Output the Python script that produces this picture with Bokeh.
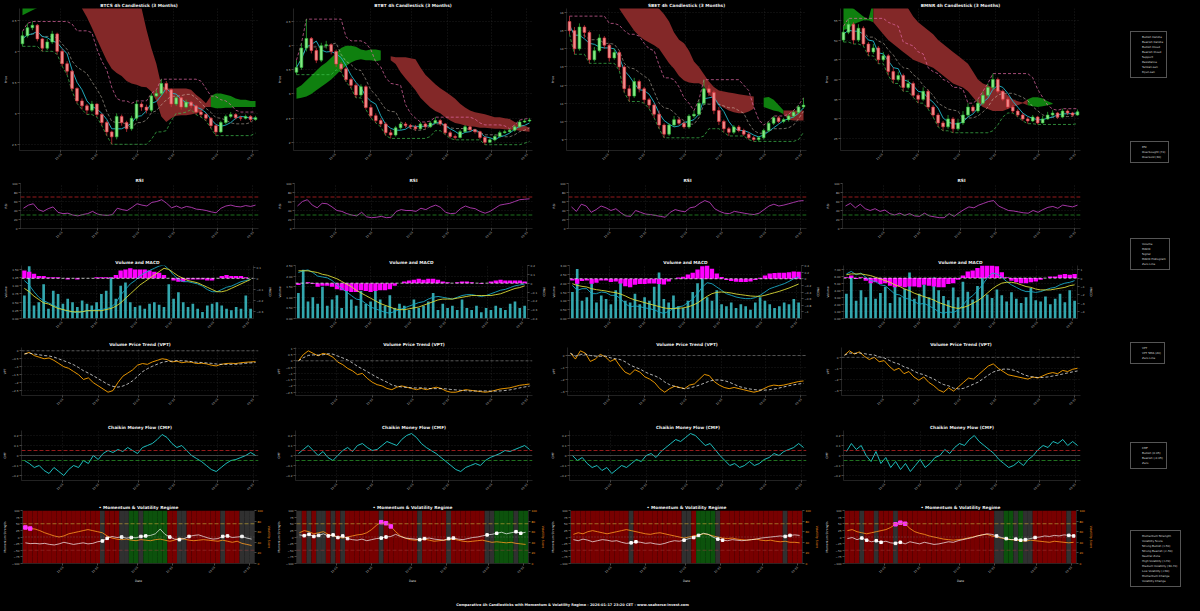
import math
import numpy as np
import pandas as pd
from bokeh.plotting import figure
from bokeh.layouts import row, column
from bokeh.models import (Range1d, LinearAxis, FixedTicker, Span, Legend, LegendItem,
                          Label, NumeralTickFormatter)
from bokeh.embed import file_html
from bokeh.resources import INLINE

# ------------------------------------------------------------------ data
TICKERS = ["BTCS", "BTBT", "SBET", "BMNR"]
START_DATE = "2025-10-17"
END_DATE = "2026-01-16"
N_BARS = 48
DATE_TICK_DATES = ["2025-11-01", "2025-11-15", "2025-12-01", "2025-12-15", "2026-01-01", "2026-01-15"]
DATE_TICK_LABELS = ["11-01", "11-15", "12-01", "12-15", "01-01", "01-15"]
FOOTER = "Comparative 4h Candlesticks with Momentum & Volatility Regime - 2026-01-17 23:20 CET - www.seahorse-invest.com"

BTCS_OPEN0 = 4.12
BTCS_CLOSE = [4.25, 4.38, 4.42, 4.20, 4.05, 4.15, 4.28, 4.00, 3.80, 3.68,
              3.40, 3.20, 3.12, 3.05, 3.15, 2.98, 2.85, 2.70, 2.62, 2.95,
              2.85, 2.75, 2.92, 3.15, 3.10, 3.05, 3.28, 3.32, 3.48, 3.38,
              3.15, 3.25, 3.10, 3.18, 3.12, 3.02, 2.98, 2.92, 2.80, 2.70,
              2.85, 2.95, 2.98, 2.93, 2.92, 2.95, 2.90, 2.93]
BTCS_HIGH = [4.32, 4.45, 4.48, 4.44, 4.22, 4.20, 4.33, 4.30, 4.04, 3.84,
             3.70, 3.42, 3.24, 3.15, 3.20, 3.16, 3.00, 2.88, 2.72, 3.00,
             2.98, 2.88, 2.96, 3.20, 3.18, 3.14, 3.32, 3.38, 3.55, 3.52,
             3.40, 3.28, 3.27, 3.22, 3.20, 3.14, 3.05, 3.00, 2.94, 2.82,
             2.88, 2.98, 3.02, 3.00, 2.96, 2.98, 2.97, 2.96]
BTCS_LOW = [4.08, 4.22, 4.34, 4.16, 4.00, 4.02, 4.12, 3.95, 3.76, 3.62,
            3.36, 3.16, 3.06, 2.98, 3.02, 2.94, 2.80, 2.64, 2.50, 2.58,
            2.80, 2.70, 2.72, 2.88, 3.04, 3.00, 3.02, 3.26, 3.28, 3.32,
            3.10, 3.12, 3.06, 3.08, 3.08, 2.98, 2.94, 2.88, 2.76, 2.64,
            2.68, 2.82, 2.92, 2.90, 2.88, 2.90, 2.86, 2.88]
BTCS_SPAN_A = [4.75, 4.75, 4.74, 4.72, None, None, None, None, None, None,
               None, None, 4.69, 4.55, 4.38, 4.20, 4.02, 3.85, 3.72, 3.65,
               3.60, 3.52, 3.48, 3.46, 3.43, 3.42, 3.35, 3.20, 2.95, 2.86,
               2.92, 2.96, 2.97, 2.97, 2.98, 3.00, 3.02, 3.10, 3.28, 3.32,
               3.32, 3.30, 3.28, 3.24, 3.22, 3.22, 3.20, 3.20]
BTCS_SPAN_B = [4.58, 4.62, 4.66, 4.70, None, None, None, None, None, None,
               None, None, 4.80, 4.80, 4.80, 4.80, 4.80, 4.80, 4.80, 4.80,
               4.80, 4.80, 4.80, 4.80, 4.70, 4.35, 4.05, 3.80, 3.45, 3.40,
               3.40, 3.40, 3.40, 3.40, 3.38, 3.30, 3.24, 3.16, 3.10, 3.08,
               3.08, 3.09, 3.09, 3.10, 3.10, 3.10, 3.10, 3.10]

BTBT_OPEN0 = 3.45
BTBT_CLOSE = [3.55, 3.95, 4.15, 3.90, 3.70, 4.00, 4.02, 3.88, 3.62, 3.52,
              3.30, 3.18, 2.98, 3.15, 2.72, 2.55, 2.45, 2.38, 2.20, 2.15,
              2.30, 2.38, 2.35, 2.32, 2.28, 2.38, 2.32, 2.40, 2.45, 2.38,
              2.20, 2.12, 2.10, 2.22, 2.32, 2.26, 2.22, 2.10, 2.00, 2.05,
              2.12, 2.20, 2.22, 2.25, 2.32, 2.42, 2.44, 2.46]
BTBT_HIGH = [3.70, 4.05, 4.55, 4.18, 3.95, 4.06, 4.10, 4.05, 3.92, 3.66,
             3.56, 3.34, 3.22, 3.20, 3.18, 2.78, 2.60, 2.50, 2.42, 2.26,
             2.34, 2.42, 2.42, 2.38, 2.36, 2.42, 2.41, 2.44, 2.52, 2.48,
             2.40, 2.24, 2.16, 2.26, 2.36, 2.34, 2.28, 2.24, 2.12, 2.10,
             2.16, 2.24, 2.26, 2.28, 2.36, 2.46, 2.48, 2.50]
BTBT_LOW = [3.40, 3.50, 3.88, 3.84, 3.64, 3.66, 3.94, 3.82, 3.56, 3.46,
            3.25, 3.12, 2.92, 2.94, 2.68, 2.50, 2.40, 2.32, 2.14, 2.08,
            2.12, 2.26, 2.30, 2.28, 2.24, 2.26, 2.28, 2.30, 2.38, 2.34,
            2.16, 2.08, 2.05, 2.08, 2.20, 2.22, 2.18, 2.06, 1.95, 1.98,
            2.02, 2.10, 2.18, 2.20, 2.22, 2.30, 2.40, 2.42]
BTBT_SPAN_A = [3.12, 3.18, 3.28, 3.38, 3.48, 3.58, 3.65, 3.75, 3.85, 3.95,
               4.00, 4.00, 3.98, 3.92, 3.90, 3.92, 3.92, 3.90, None, 3.70,
               3.62, 3.45, 3.32, 3.20, 3.08, 2.92, 2.82, 2.72, 2.65, 2.60,
               2.52, 2.45, 2.40, 2.38, 2.35, 2.33, 2.32, 2.30, 2.30, 2.29,
               2.28, 2.28, 2.27, 2.26, 2.26, 2.24, 2.23, 2.22]
BTBT_SPAN_B = [2.90, 2.92, 2.95, 3.00, 3.08, 3.15, 3.22, 3.30, 3.40, 3.50,
               3.58, 3.65, 3.70, 3.72, 3.70, 3.70, 3.68, 3.70, None, 3.78,
               3.76, 3.76, 3.76, 3.74, 3.72, 3.55, 3.40, 3.30, 3.20, 3.12,
               3.05, 2.98, 2.90, 2.80, 2.72, 2.66, 2.62, 2.60, 2.58, 2.55,
               2.52, 2.52, 2.50, 2.48, 2.42, 2.38, 2.34, 2.30]

SBET_OPEN0 = 15.5
SBET_CLOSE = [15.0, 14.0, 15.2, 14.9, 13.4, 13.9, 14.6, 14.2, 13.5, 13.8,
              13.0, 11.8, 11.4, 12.2, 11.8, 11.2, 10.9, 10.4, 9.8, 9.3,
              9.8, 10.1, 9.9, 9.7, 10.3, 10.4, 11.0, 11.8, 11.6, 10.6,
              10.0, 9.6, 9.4, 9.7, 9.5, 9.3, 9.1, 9.0, 9.1, 9.5,
              9.9, 10.2, 10.0, 10.1, 10.3, 10.5, 10.8, 10.9]
SBET_HIGH = [15.8, 15.2, 15.4, 15.3, 15.0, 14.1, 14.8, 14.7, 14.3, 14.0,
             13.9, 13.1, 12.0, 12.4, 12.3, 11.9, 11.3, 11.0, 10.6, 9.9,
             9.9, 10.3, 10.2, 10.0, 10.4, 10.6, 11.2, 12.3, 12.0, 11.7,
             10.8, 10.1, 9.7, 9.8, 9.8, 9.6, 9.4, 9.2, 9.2, 9.6,
             10.0, 10.3, 10.3, 10.2, 10.4, 10.6, 10.9, 11.3]
SBET_LOW = [14.8, 13.7, 13.9, 14.6, 13.2, 13.3, 13.8, 14.0, 13.3, 13.4,
            12.8, 11.6, 11.1, 11.3, 11.6, 11.0, 10.7, 10.2, 9.6, 9.1,
            9.2, 9.7, 9.8, 9.6, 9.6, 10.2, 10.3, 10.9, 11.4, 10.4,
            9.8, 9.4, 9.2, 9.3, 9.4, 9.2, 9.0, 8.9, 8.9, 9.0,
            9.4, 9.8, 9.9, 9.9, 10.0, 10.2, 10.4, 10.7]
SBET_SPAN_A = [None, None, None, None, None, None, None, None, None, None,
               16.2, 15.8, 15.4, 15.0, 14.7, 14.5, 14.35, 14.2, 14.0, 13.6,
               13.2, 12.9, 12.5, 12.25, 12.15, 12.1, 12.1, 11.95, 11.5, 11.2,
               10.9, 10.75, 10.6, 10.5, 10.45, 10.45, 10.55, 10.7, None, 11.3,
               11.35, 11.2, 10.9, 10.4, 10.1, 10.05, 10.05, 10.05]
SBET_SPAN_B = [None, None, None, None, None, None, None, None, None, None,
               16.4, 16.4, 16.4, 16.4, 16.4, 16.4, 16.4, 16.4, 16.2, 15.9,
               15.5, 14.9, 14.5, 14.3, 13.9, 13.3, 13.0, 12.6, 12.2, 11.9,
               11.7, 11.65, 11.6, 11.55, 11.5, 11.45, 11.42, 11.38, None, 10.8,
               10.7, 10.6, 10.55, 10.6, 10.6, 10.6, 10.6, 10.6]

BMNR_OPEN0 = 50.0
BMNR_CLOSE = [52, 54, 50, 53, 49, 47, 48, 45, 46, 42,
              40, 41, 38, 39, 36, 35, 37, 33, 31, 29,
              28, 30, 27.5, 29, 31, 33, 32, 34, 36, 38,
              40, 37, 35, 33, 32, 31, 30, 29.5, 30.5, 29,
              30, 31, 31.5, 30.5, 32, 31.5, 31, 31.8]
BMNR_HIGH = [53.5, 55.5, 54.5, 54, 53.5, 49.5, 49, 48.5, 47, 46.5,
             43, 42, 41.5, 40, 39.5, 36.5, 38, 37.5, 33.5, 31.5,
             29.5, 31, 30.5, 30, 32, 34, 33.5, 35, 37, 39,
             41.5, 40.5, 37.5, 35.5, 33.5, 32.5, 31.5, 30.5, 31, 30.8,
             30.8, 31.8, 32.2, 31.8, 32.6, 32.4, 31.8, 32.4]
BMNR_LOW = [49.5, 51.5, 49, 49.5, 48.5, 46, 46.5, 44, 44.5, 41,
            39, 39.5, 37, 37.5, 35.5, 34, 34.5, 32.5, 30.5, 28,
            27, 27.5, 26.5, 27, 28.5, 30.5, 31.5, 31.5, 33.5, 35.5,
            37.5, 36.5, 34.5, 32.5, 31.5, 30.5, 29.5, 28.8, 29.2, 28.6,
            28.8, 29.8, 30.6, 30, 30.2, 31, 30.6, 30.8]
BMNR_SPAN_A = [58.5, 58.5, 58.0, 57.0, 56.0, 55.3, 54.5, 53.0, 51.5, 50.0,
               49.0, 48.0, 47.0, 46.0, 45.0, 44.5, 44.0, 43.5, 43.0, 42.0,
               41.0, 40.0, 39.0, 38.5, 38.0, 37.0, 35.5, 34.0, 33.0, 32.5,
               32.0, 32.0, 32.0, 32.5, 33.0, 33.5, 34.0, 35.0, 35.5, 35.5,
               35.2, 34.5, 34.0, None, None, None, None, None]
BMNR_SPAN_B = [52.5, 53.0, 54.0, 54.5, 55.0, 55.0, 60, 60, 60, 60,
               60, 60, 60, 58, 56, 54.5, 53.5, 52.5, 51.5, 50,
               49, 48, 47, 46, 45, 44, 42, 40, 39, 38.5,
               38, 37.5, 37, 36, 35, 34.5, 34.2, 33.5, 33.2, 33.0,
               33.2, 33.5, 33.8, None, None, None, None, None]

BTCS_RSI = [45, 52, 55, 42, 38, 44, 48, 36, 33, 34, 30, 28, 31, 33, 38, 32, 30, 29, 31, 45,
            42, 40, 47, 55, 52, 50, 58, 60, 64, 56, 46, 50, 45, 49, 47, 43, 42, 40, 37, 35,
            45, 50, 52, 49, 48, 51, 49, 52]
BTBT_RSI = [50, 60, 64, 52, 46, 56, 55, 48, 40, 38, 33, 30, 28, 36, 26, 24, 25, 27, 24, 25,
            38, 42, 40, 40, 38, 45, 42, 48, 52, 47, 36, 33, 34, 44, 50, 46, 44, 38, 34, 38,
            45, 52, 54, 56, 60, 64, 65, 66]
SBET_RSI = [48, 38, 54, 50, 36, 42, 50, 46, 40, 44, 35, 28, 27, 40, 36, 32, 31, 29, 27, 25,
            36, 42, 39, 37, 46, 48, 56, 62, 58, 44, 38, 34, 33, 38, 36, 34, 32, 31, 34, 42,
            50, 54, 50, 52, 55, 58, 61, 62]
BMNR_RSI = [50, 56, 46, 54, 44, 40, 44, 38, 41, 33, 30, 34, 29, 33, 28, 27, 34, 28, 26, 24,
            24, 33, 27, 35, 42, 48, 46, 52, 56, 60, 62, 50, 45, 40, 39, 37, 35, 34, 40, 36,
            42, 47, 49, 45, 52, 50, 48, 52]

BTCS_VOLUME = [0.7, 1.6, 0.4, 0.5, 1.05, 0.3, 0.85, 0.75, 0.45, 0.6, 0.5, 0.35, 0.55, 0.45, 0.4, 0.5,
               0.75, 0.85, 1.25, 0.6, 1.0, 1.1, 0.5, 0.35, 0.4, 0.3, 0.45, 0.5, 0.42, 0.35, 1.05, 0.6,
               0.8, 0.5, 0.35, 0.45, 0.3, 0.2, 0.4, 0.45, 0.5, 0.4, 0.3, 0.25, 0.35, 0.3, 0.7, 0.3]
BTBT_VOLUME = [1.2, 2.3, 0.8, 1.0, 0.7, 1.5, 0.6, 0.9, 1.1, 0.5, 1.4, 0.9, 0.6, 1.3, 0.7, 0.8,
               1.6, 0.9, 0.6, 1.1, 0.5, 0.7, 0.6, 0.4, 0.9, 0.5, 0.6, 0.8, 1.2, 0.4, 0.7, 0.5,
               0.6, 0.4, 0.9, 0.5, 0.4, 0.6, 0.3, 0.5, 0.4, 0.6, 0.5, 0.4, 0.7, 0.8, 0.5, 0.6]
SBET_VOLUME = [1.5, 2.8, 1.0, 1.2, 2.0, 0.9, 1.3, 1.1, 0.8, 1.6, 2.2, 1.0, 0.9, 1.4, 0.8, 1.2,
               1.0, 1.8, 2.6, 1.1, 0.9, 1.3, 0.7, 0.6, 1.0, 1.5, 2.0, 2.4, 1.2, 1.0, 1.6, 0.8,
               0.7, 0.9, 0.6, 0.8, 0.7, 0.5, 0.9, 1.2, 1.0, 0.8, 0.6, 0.7, 0.9, 0.8, 1.1, 0.9]
BMNR_VOLUME = [3.5, 6.0, 2.5, 4.0, 3.0, 5.5, 2.8, 3.6, 4.5, 2.2, 5.0, 3.0, 4.2, 6.5, 2.8, 3.5,
               4.8, 3.0, 5.8, 4.0, 3.2, 2.6, 4.4, 3.0, 5.2, 3.8, 2.7, 4.6, 6.8, 3.4, 2.9, 4.1,
               3.3, 2.4, 3.7, 2.8, 2.2, 3.0, 4.3, 2.6, 2.4, 3.1, 2.0, 2.8, 3.5, 2.3, 4.0, 2.5]

BTCS_MACD = [-0.02, -0.06, -0.12, -0.17, -0.20, -0.22, -0.24, -0.26, -0.28, -0.30,
             -0.30, -0.31, -0.30, -0.29, -0.29, -0.28, -0.28, -0.27, -0.26, -0.22,
             -0.15, -0.10, -0.05, -0.02, 0.02, 0.05, 0.07, 0.09, 0.11, 0.12,
             0.08, 0.03, -0.01, -0.03, -0.03, -0.04, -0.05, -0.07, -0.10, -0.12,
             -0.12, -0.10, -0.08, -0.07, -0.05, -0.03, -0.02, -0.01]
BTCS_SIGNAL = [-0.09, -0.12, -0.16, -0.19, -0.22, -0.23, -0.25, -0.27, -0.28, -0.29,
               -0.30, -0.30, -0.30, -0.29, -0.29, -0.29, -0.29, -0.28, -0.27, -0.25,
               -0.22, -0.18, -0.14, -0.10, -0.06, -0.03, 0.00, 0.03, 0.06, 0.09,
               0.08, 0.05, 0.02, 0.00, -0.02, -0.03, -0.04, -0.06, -0.08, -0.10,
               -0.12, -0.12, -0.11, -0.09, -0.07, -0.05, -0.03, -0.01]
BTBT_MACD = [0.12, 0.14, 0.15, 0.12, 0.08, 0.07, 0.06, 0.03, -0.02, -0.06,
             -0.10, -0.14, -0.18, -0.19, -0.23, -0.27, -0.29, -0.31, -0.33, -0.34,
             -0.32, -0.30, -0.28, -0.26, -0.24, -0.22, -0.21, -0.18, -0.16, -0.15,
             -0.16, -0.17, -0.18, -0.16, -0.14, -0.13, -0.13, -0.14, -0.15, -0.14,
             -0.12, -0.10, -0.08, -0.07, -0.05, -0.03, -0.02, -0.01]
BTBT_SIGNAL = [0.14, 0.14, 0.14, 0.13, 0.12, 0.10, 0.09, 0.07, 0.05, 0.02,
               -0.01, -0.04, -0.08, -0.11, -0.14, -0.17, -0.20, -0.23, -0.25, -0.27,
               -0.29, -0.30, -0.30, -0.29, -0.28, -0.27, -0.25, -0.23, -0.21, -0.19,
               -0.18, -0.18, -0.18, -0.17, -0.16, -0.15, -0.14, -0.14, -0.14, -0.14,
               -0.14, -0.13, -0.12, -0.10, -0.08, -0.06, -0.05, -0.03]
SBET_MACD = [-0.2, -0.35, -0.3, -0.3, -0.45, -0.45, -0.4, -0.42, -0.5, -0.5,
             -0.6, -0.75, -0.85, -0.82, -0.84, -0.88, -0.9, -0.94, -1.0, -1.05,
             -0.98, -0.9, -0.85, -0.82, -0.72, -0.62, -0.45, -0.25, -0.12, -0.15,
             -0.25, -0.35, -0.45, -0.5, -0.55, -0.58, -0.6, -0.6, -0.57, -0.5,
             -0.4, -0.3, -0.25, -0.2, -0.15, -0.08, 0.0, 0.05]
SBET_SIGNAL = [-0.15, -0.2, -0.23, -0.25, -0.3, -0.33, -0.35, -0.37, -0.4, -0.42,
               -0.46, -0.52, -0.59, -0.64, -0.68, -0.72, -0.76, -0.8, -0.84, -0.88,
               -0.9, -0.9, -0.89, -0.88, -0.85, -0.8, -0.73, -0.63, -0.53, -0.45,
               -0.41, -0.4, -0.41, -0.43, -0.46, -0.48, -0.5, -0.52, -0.53, -0.53,
               -0.5, -0.46, -0.42, -0.38, -0.33, -0.28, -0.22, -0.16]
BMNR_MACD = [0.5, 0.8, 0.4, 0.6, 0.1, -0.3, -0.4, -0.8, -0.9, -1.4,
             -1.9, -2.0, -2.4, -2.5, -2.8, -3.1, -3.0, -3.3, -3.6, -4.0,
             -4.2, -4.0, -4.1, -3.8, -3.2, -2.5, -2.1, -1.5, -0.8, 0.0,
             0.6, 0.5, 0.1, -0.4, -0.8, -1.1, -1.4, -1.6, -1.6, -1.7,
             -1.6, -1.4, -1.2, -1.1, -0.8, -0.6, -0.5, -0.3]
BMNR_SIGNAL = [0.4, 0.5, 0.5, 0.5, 0.4, 0.3, 0.1, -0.1, -0.3, -0.5,
               -0.8, -1.0, -1.3, -1.5, -1.8, -2.0, -2.2, -2.4, -2.6, -2.9,
               -3.1, -3.3, -3.5, -3.6, -3.5, -3.3, -3.0, -2.7, -2.3, -1.8,
               -1.3, -0.9, -0.6, -0.5, -0.5, -0.6, -0.8, -1.0, -1.1, -1.3,
               -1.4, -1.4, -1.4, -1.3, -1.2, -1.1, -0.9, -0.8]

BTCS_VPT = [-0.2, -0.1, -0.3, -0.4, -0.5, -0.45, -0.6, -0.8, -1.0, -1.1,
            -1.3, -1.5, -1.8, -1.7, -2.0, -2.2, -2.4, -2.6, -2.5, -2.0,
            -1.6, -1.4, -1.2, -0.9, -0.8, -0.85, -0.7, -0.6, -0.5, -0.55,
            -0.7, -0.65, -0.75, -0.7, -0.72, -0.8, -0.78, -0.82, -0.9, -0.95,
            -0.85, -0.8, -0.78, -0.8, -0.75, -0.72, -0.7, -0.68]
BTBT_VPT = [0.0, 0.5, 0.8, 0.6, 0.4, 0.6, 0.5, 0.3, -0.1, -0.3,
            -0.6, -0.8, -1.1, -1.0, -1.4, -1.7, -1.9, -2.0, -2.2, -2.3,
            -2.1, -2.0, -2.1, -2.2, -2.3, -2.2, -2.3, -2.2, -2.1, -2.2,
            -2.4, -2.5, -2.5, -2.4, -2.3, -2.35, -2.4, -2.45, -2.5, -2.45,
            -2.35, -2.25, -2.2, -2.15, -2.05, -1.95, -1.9, -1.85]
SBET_VPT = [0.2, -0.3, 0.4, 0.2, -0.5, -0.3, 0.1, -0.1, -0.5, -0.3,
            -0.9, -1.4, -1.6, -1.2, -1.4, -1.8, -2.0, -2.3, -2.8, -3.1,
            -2.8, -2.6, -2.7, -2.8, -2.5, -2.4, -2.0, -1.6, -1.7, -2.2,
            -2.5, -2.7, -2.8, -2.7, -2.8, -2.9, -3.0, -3.1, -3.0, -2.8,
            -2.6, -2.5, -2.55, -2.5, -2.4, -2.3, -2.2, -2.15]
BMNR_VPT = [0.2, 0.6, 0.3, 0.5, 0.1, -0.2, 0.0, -0.4, -0.3, -0.8,
            -1.2, -1.0, -1.5, -1.3, -1.8, -2.1, -1.8, -2.3, -2.6, -3.0,
            -3.2, -2.8, -3.1, -2.7, -2.3, -1.9, -2.0, -1.6, -1.2, -0.8,
            -0.6, -1.0, -1.3, -1.6, -1.7, -1.8, -1.9, -2.0, -1.8, -1.9,
            -1.7, -1.5, -1.4, -1.5, -1.2, -1.3, -1.1, -1.0]

BTCS_CMF = [-0.05, -0.08, -0.12, -0.1, -0.15, -0.18, -0.12, -0.16, -0.2, -0.14,
            -0.1, -0.12, -0.05, -0.08, 0.0, -0.04, 0.02, 0.05, 0.03, 0.06,
            0.04, 0.08, 0.05, 0.02, 0.08, 0.1, 0.12, 0.16, 0.21, 0.18,
            0.12, 0.08, 0.1, 0.05, 0.0, -0.03, -0.06, -0.1, -0.14, -0.16,
            -0.12, -0.08, -0.05, -0.04, -0.02, 0.0, 0.03, 0.0]
BTBT_CMF = [0.02, 0.06, 0.1, 0.05, 0.0, 0.04, -0.02, -0.05, 0.0, 0.05,
            0.08, 0.04, 0.1, 0.12, 0.08, 0.05, 0.06, 0.1, 0.14, 0.12,
            0.1, 0.16, 0.2, 0.22, 0.18, 0.12, 0.08, 0.05, 0.02, -0.02,
            -0.06, -0.1, -0.14, -0.16, -0.12, -0.1, -0.08, -0.1, -0.05, -0.02,
            0.0, 0.02, 0.05, 0.04, 0.06, 0.08, 0.1, 0.06]
SBET_CMF = [0.0, -0.05, -0.02, -0.08, -0.12, -0.1, -0.15, -0.12, -0.18, -0.14,
            -0.1, -0.12, -0.08, -0.04, -0.06, 0.0, 0.02, -0.02, 0.04, 0.08,
            0.12, 0.16, 0.14, 0.18, 0.22, 0.2, 0.15, 0.1, 0.12, 0.06,
            0.0, -0.05, -0.1, -0.08, -0.12, -0.1, -0.06, -0.1, -0.08, -0.04,
            -0.02, 0.02, 0.0, 0.04, 0.06, 0.08, 0.12, 0.08]
BMNR_CMF = [0.04, 0.12, 0.06, 0.1, 0.0, -0.06, 0.04, -0.08, -0.02, -0.12,
            -0.06, -0.14, -0.08, -0.16, -0.1, -0.04, -0.12, -0.08, -0.02, 0.0,
            0.06, 0.02, 0.08, 0.12, 0.1, 0.16, 0.2, 0.14, 0.1, 0.06,
            0.02, -0.04, -0.08, -0.12, -0.1, -0.06, -0.1, -0.04, 0.0, 0.06,
            0.1, 0.08, 0.14, 0.12, 0.16, 0.1, 0.14, 0.1]

BTCS_MOMENTUM = [-22, -25, -24, -26, -24, -28, -30, -26, -20, -24, -28, -25, -22, -26, -24, -18,
                 -15, -5, 2, -2, 0, -4, -2, -3, 2, 4, 6, 12, 30, 10, 0, -8,
                 -10, -6, 2, 6, 8, 2, -4, -8, -6, 2, 4, -2, 0, 2, -4, -8]
BTCS_VOLATILITY = [68, 66, 65, 62, 58, 55, 52, 50, 52, 56, 58, 60, 62, 64, 62, 60,
                   58, 52, 48, 46, 45, 46, 44, 43, 45, 44, 43, 45, 46, 44, 42, 44,
                   48, 46, 44, 43, 44, 45, 44, 43, 42, 44, 42, 40, 42, 38, 36, 34]
BTBT_MOMENTUM = [8, 5, 10, 2, 6, 12, 4, 8, -2, 4, -6, -10, -12, -8, -14, -10,
                 -6, -4, 0, 2, 10, 2, -4, -6, -8, -10, -6, -4, -8, -10, -12, -6,
                 -4, -8, -10, -6, -2, 0, 4, 8, 10, 14, 18, 12, 16, 20, 14, 18]
BTBT_VOLATILITY = [58, 62, 60, 56, 58, 60, 55, 52, 50, 48, 50, 52, 54, 55, 58, 64,
                   72, 78, 76, 70, 60, 52, 48, 45, 44, 45, 46, 44, 42, 43, 44, 45,
                   46, 44, 42, 41, 42, 43, 44, 42, 40, 41, 40, 39, 40, 38, 37, 36]
SBET_MOMENTUM = [-10, -14, -8, -12, -18, -14, -10, -12, -16, -14, -20, -24, -22, -18, -20, -24,
                 -22, -26, -28, -24, -18, -14, -16, -12, -6, -2, 6, 14, 10, 0, -8, -12,
                 -14, -10, -12, -14, -12, -10, -8, -4, -2, 0, 2, 4, 2, 6, 8, 6]
SBET_VOLATILITY = [55, 58, 56, 60, 62, 60, 58, 56, 58, 60, 62, 64, 62, 60, 58, 56,
                   55, 57, 58, 56, 54, 52, 50, 48, 50, 52, 54, 56, 55, 52, 50, 48,
                   47, 48, 46, 45, 44, 45, 46, 44, 43, 44, 42, 41, 42, 40, 40, 39]
BMNR_MOMENTUM = [-6, -2, -10, -4, -12, -18, -14, -20, -16, -22, -24, -20, -26, -18, -22, -26,
                 -20, -24, -28, -26, -22, -18, -20, -14, -10, -6, -2, 4, 8, 12, 10, 4,
                 -2, -6, -10, -8, -12, -10, -6, -2, 0, 4, 2, 6, 4, 8, 6, 4]
BMNR_VOLATILITY = [62, 64, 60, 58, 56, 58, 60, 62, 64, 68, 74, 77, 75, 66, 60, 57,
                   55, 52, 50, 48, 46, 45, 44, 45, 46, 48, 50, 52, 54, 55, 52, 50,
                   48, 46, 45, 44, 43, 42, 44, 43, 42, 41, 40, 42, 41, 40, 39, 40]

# regime runs: R = strong bearish, N = neutral, G = strong bullish
BTCS_REGIME = [("R", 16), ("N", 1), ("R", 3), ("N", 2), ("G", 2), ("N", 1), ("G", 5), ("R", 2),
               ("N", 2), ("R", 7), ("N", 1), ("R", 3), ("N", 3)]
BTBT_REGIME = [("N", 1), ("R", 1), ("N", 1), ("R", 1), ("N", 2), ("R", 1), ("N", 1), ("R", 1),
               ("N", 1), ("R", 7), ("N", 1), ("R", 7), ("N", 1), ("R", 5), ("N", 1), ("R", 7),
               ("N", 2), ("G", 4), ("N", 1), ("G", 2)]
SBET_REGIME = [("R", 12), ("N", 1), ("R", 10), ("N", 2), ("R", 1), ("G", 4), ("N", 1), ("R", 13),
               ("N", 1), ("R", 3)]
BMNR_REGIME = [("R", 3), ("N", 1), ("R", 2), ("N", 1), ("R", 3), ("N", 1), ("R", 20), ("N", 2),
               ("G", 2), ("N", 1), ("G", 1), ("N", 2), ("R", 7), ("N", 1), ("R", 1)]
BTCS_VOL_CHANGE = [0, 1]
BTBT_VOL_CHANGE = [17, 18, 19]
SBET_VOL_CHANGE = []
BMNR_VOL_CHANGE = [10, 11, 12]

# axis configuration
PRICE_RANGE = {"BTCS": (2.40, 4.69), "BTBT": (1.83, 4.77), "SBET": (8.4, 16.22), "BMNR": (22, 58)}
PRICE_TICKS = {"BTCS": [2.5, 3.0, 3.5, 4.0, 4.5], "BTBT": [2.0, 2.5, 3.0, 3.5, 4.0, 4.5],
               "SBET": [9, 10, 11, 12, 13, 14, 15, 16], "BMNR": [25, 30, 35, 40, 45, 50, 55]}
VOL_RANGE = {"BTCS": (0, 1.62), "BTBT": (0, 2.5), "SBET": (0, 3.0), "BMNR": (0, 7.5)}
VOL_TICKS = {"BTCS": [0, 0.25, 0.5, 0.75, 1.0, 1.25, 1.5], "BTBT": [0, 0.5, 1.0, 1.5, 2.0, 2.5],
             "SBET": [0, 0.5, 1.0, 1.5, 2.0, 2.5, 3.0], "BMNR": [0, 1, 2, 3, 4, 5, 6, 7]}
MACD_RANGE = {"BTCS": (-0.36, 0.115), "BTBT": (-0.4, 0.2), "SBET": (-1.2, 0.4), "BMNR": (-4.8, 1.5)}
VOL_SCALE = {"BTCS": "1e6", "BTBT": "1e7", "SBET": "1e7", "BMNR": "1e7"}
VPT_SCALE = {"BTCS": "1e6", "BTBT": "1e7", "SBET": "1e7", "BMNR": "1e8"}

G = globals()


def fit(lst):
    a = list(lst)
    if len(a) < N_BARS:
        a = a + [a[-1]] * (N_BARS - len(a))
    return np.array(a[:N_BARS], dtype=float)


def expand(runs):
    out = []
    for code, n in runs:
        out += [code] * n
    out = out + [out[-1]] * N_BARS
    return out[:N_BARS]


# ------------------------------------------------------------------ style / geometry
FONT = "DejaVu Sans"
BG = "black"
COL_W = 274
LEG_W = 104
ROW_LAYOUT = {"candle": (174, 8, 24), "rsi": (82, 9, 28), "macd": (82, 9, 20),
              "vpt": (82, 9, 25), "cmf": (82, 10, 22), "mom": (83, 8, 20)}
CLOUD_BULL = "#0f800f"
CLOUD_BEAR = "#832828"
REG_COL = {"R": "#780000", "N": "#303030", "G": "#0c520c"}

dates = pd.date_range(START_DATE, END_DATE, periods=N_BARS)
x = ((dates - dates[0]) / pd.Timedelta(days=1)).values.astype(float)
step = x[1] - x[0]
tick_x = [float((pd.Timestamp(d) - dates[0]) / pd.Timedelta(days=1)) for d in DATE_TICK_DATES]
X0, X1 = x[0] - step * 0.6, x[-1] + step * 0.6


def style_axis(ax, color="#bbbbbb"):
    ax.major_label_text_font = FONT
    ax.major_label_text_font_size = "2.8px"
    ax.major_label_text_color = color
    ax.axis_label_text_font = FONT
    ax.axis_label_text_font_size = "3px"
    ax.axis_label_text_color = "#dddddd"
    ax.axis_label_text_font_style = "normal"
    ax.axis_label_standoff = 2
    ax.major_label_standoff = 1
    ax.major_tick_out = 2
    ax.major_tick_in = 0
    ax.minor_tick_out = 0
    ax.minor_tick_in = 0
    ax.major_tick_line_color = "#888888"
    ax.major_tick_line_width = 0.5
    ax.axis_line_color = "#444444"
    ax.axis_line_width = 0.5


def base_fig(kind, title, y_range, ylabel, xlabel=None):
    h, top, bottom = ROW_LAYOUT[kind]
    p = figure(width=COL_W, height=h, x_range=Range1d(X0, X1), y_range=y_range,
               output_backend="svg", toolbar_location=None,
               min_border_left=18, min_border_right=16, min_border_top=top,
               min_border_bottom=bottom, background_fill_color=BG, border_fill_color=BG,
               outline_line_color=None)
    p.title.text = title
    p.title.text_font = FONT
    p.title.text_font_size = "4.3px"
    p.title.text_font_style = "bold"
    p.title.text_color = "#eeeeee"
    p.title.align = "center"
    p.title.standoff = 1
    p.title.offset = 0
    p.xaxis.ticker = FixedTicker(ticks=tick_x)
    p.xaxis.major_label_overrides = {t: l for t, l in zip(tick_x, DATE_TICK_LABELS)}
    p.xaxis.major_label_orientation = math.pi / 4
    p.yaxis.axis_label = ylabel
    if xlabel:
        p.xaxis.axis_label = xlabel
    for ax in list(p.xaxis) + list(p.yaxis):
        style_axis(ax)
    p.grid.grid_line_color = "#3a3a3a"
    p.grid.grid_line_dash = "1 2"
    p.grid.grid_line_width = 0.5
    return p


def draw_cloud(p, a_list, b_list):
    a = fit([np.nan if v is None else v for v in a_list])
    b = fit([np.nan if v is None else v for v in b_list])
    ok = ~(np.isnan(a) | np.isnan(b))
    bull = a >= b
    i = 0
    while i < N_BARS:
        if not ok[i]:
            i += 1
            continue
        j = i
        while j + 1 < N_BARS and ok[j + 1] and bull[j + 1] == bull[i]:
            j += 1
        k = j + 1 if (j + 1 < N_BARS and ok[j + 1]) else j
        sl = slice(i, k + 1)
        if k > i:
            p.varea(x=x[sl], y1=np.minimum(a[sl], b[sl]), y2=np.maximum(a[sl], b[sl]),
                    fill_color=CLOUD_BULL if bull[i] else CLOUD_BEAR, fill_alpha=1.0)
        i = j + 1


def candle_panel(t):
    c = fit(G[t + "_CLOSE"])
    o = np.concatenate([[G[t + "_OPEN0"]], c[:-1]])
    hi = np.maximum(fit(G[t + "_HIGH"]), np.maximum(o, c))
    lo = np.minimum(fit(G[t + "_LOW"]), np.minimum(o, c))
    p = base_fig("candle", f"{t} 4h Candlestick (3 Months)", Range1d(*PRICE_RANGE[t]), "Price")
    p.yaxis.ticker = FixedTicker(ticks=PRICE_TICKS[t])
    draw_cloud(p, G[t + "_SPAN_A"], G[t + "_SPAN_B"])
    hs, ls = pd.Series(hi), pd.Series(lo)
    tenkan = (hs.rolling(3, min_periods=1).max() + ls.rolling(3, min_periods=1).min()) / 2
    kijun = (hs.rolling(7, min_periods=1).max() + ls.rolling(7, min_periods=1).min()) / 2
    support = ls.rolling(8, min_periods=1).min()
    resist = hs.rolling(8, min_periods=1).max()
    p.line(x, support.values, color="#3fbf4f", line_dash="3 2", line_width=0.7)
    p.line(x, resist.values, color="#e46aa8", line_dash="3 2", line_width=0.7)
    p.line(x, kijun.values, color="#e6dccb", line_dash="3 2", line_width=0.6, line_alpha=0.8)
    p.line(x, tenkan.values, color="#22b8cc", line_width=0.9)
    up = c >= o
    body = ["#86e886" if u else "#f08a8a" for u in up]
    edge = ["#2fbf3a" if u else "#e0353f" for u in up]
    p.segment(x0=x, y0=hi, x1=x, y1=lo, line_color=edge, line_width=0.7)
    p.vbar(x=x, top=np.maximum(o, c), bottom=np.minimum(o, c), width=step * 0.55,
           fill_color=body, line_color=edge, line_width=0.6)
    return p


def rsi_panel(t):
    p = base_fig("rsi", "RSI", Range1d(0, 100), "RSI")
    p.yaxis.ticker = FixedTicker(ticks=[0, 20, 40, 60, 80, 100])
    p.add_layout(Span(location=70, dimension="width", line_color="#d62728",
                      line_dash="4 2", line_width=0.7))
    p.add_layout(Span(location=30, dimension="width", line_color="#2ca02c",
                      line_dash="4 2", line_width=0.7))
    p.line(x, fit(G[t + "_RSI"]), color="#cc44cc", line_width=0.8)
    return p


def macd_panel(t):
    vr = VOL_RANGE[t]
    p = base_fig("macd", "Volume and MACD", Range1d(*vr), "Volume")
    p.extra_y_ranges = {"macd": Range1d(*MACD_RANGE[t])}
    p.yaxis.ticker = FixedTicker(ticks=VOL_TICKS[t])
    p.yaxis.formatter = NumeralTickFormatter(format="0.00")
    vol = fit(G[t + "_VOLUME"])
    macd = fit(G[t + "_MACD"])
    sig = fit(G[t + "_SIGNAL"])
    hist = macd - sig
    p.vbar(x=x, top=vol, width=step * 0.55, fill_color="#3cc4cc", line_color=None, fill_alpha=0.85)
    p.vbar(x=x, top=hist, bottom=0, width=step * 0.9, fill_color="#ff00ff", line_color=None,
           y_range_name="macd")
    p.line(x, macd, color="#1aa7c4", line_width=0.9, y_range_name="macd")
    p.line(x, sig, color="#d9d936", line_width=0.9, y_range_name="macd")
    p.add_layout(Span(location=0, dimension="width", y_range_name="macd", line_color="white",
                      line_dash="3 2", line_width=0.7))
    ax = LinearAxis(y_range_name="macd", axis_label="MACD")
    style_axis(ax)
    p.add_layout(ax, "right")
    p.add_layout(Label(x=X0, y=vr[1], text=VOL_SCALE[t], x_offset=-8, y_offset=1,
                       text_font=FONT, text_font_size="2.8px", text_color="#bbbbbb"))
    return p


def vpt_panel(t):
    v = fit(G[t + "_VPT"])
    sma = pd.Series(v).rolling(6, min_periods=1).mean().values
    lo_, hi_ = min(v.min(), 0.0), max(v.max(), 0.0)
    pad = (hi_ - lo_) * 0.08
    p = base_fig("vpt", "Volume Price Trend (VPT)", Range1d(lo_ - pad, hi_ + pad), "VPT")
    p.add_layout(Span(location=0, dimension="width", line_color="#888888", line_dash="3 2",
                      line_width=0.6))
    p.line(x, v, color="#ffa500", line_width=0.9)
    p.line(x, sma, color="#ffffff", line_dash="3 2", line_width=0.7)
    p.add_layout(Label(x=X0, y=hi_ + pad, text=VPT_SCALE[t], x_offset=-8, y_offset=1,
                       text_font=FONT, text_font_size="2.8px", text_color="#bbbbbb"))
    return p


def cmf_panel(t):
    p = base_fig("cmf", "Chaikin Money Flow (CMF)", Range1d(-0.25, 0.25), "CMF")
    p.yaxis.ticker = FixedTicker(ticks=[-0.2, -0.1, 0, 0.1, 0.2])
    p.add_layout(Span(location=0, dimension="width", line_color="#777777", line_width=0.5))
    p.add_layout(Span(location=0.05, dimension="width", line_color="#d62728",
                      line_dash="4 2", line_width=0.7))
    p.add_layout(Span(location=-0.05, dimension="width", line_color="#2ca02c",
                      line_dash="4 2", line_width=0.7))
    p.line(x, fit(G[t + "_CMF"]), color="#20d0d0", line_width=0.9)
    return p


def mom_panel(t):
    reg = expand(G[t + "_REGIME"])
    mom = fit(G[t + "_MOMENTUM"])
    vol = fit(G[t + "_VOLATILITY"])
    p = base_fig("mom", "\u2022 Momentum & Volatility Regime", Range1d(-100, 100),
                 "Momentum Strength", xlabel="Date")
    p.extra_y_ranges = {"vol": Range1d(0, 100)}
    p.yaxis.ticker = FixedTicker(ticks=[-100, -75, -50, -25, 0, 25, 50, 75, 100])
    p.quad(left=x - step / 2, right=x + step / 2, bottom=-100, top=100,
           fill_color=[REG_COL[r] for r in reg], line_color=None)
    p.add_layout(Span(location=50, dimension="width", line_color="#b59b35",
                      line_dash="4 2", line_width=0.7))
    p.add_layout(Span(location=-50, dimension="width", line_color="#aa4444",
                      line_dash="4 2", line_width=0.6, line_alpha=0.7))
    p.add_layout(Span(location=0, dimension="width", line_color="#888888",
                      line_dash="1 2", line_width=0.5))
    p.line(x, vol, y_range_name="vol", color="#ff9a1f", line_width=0.8)
    p.line(x, mom, color="white", line_alpha=0.85, line_width=0.8)
    chg = [i for i in range(1, N_BARS) if reg[i] != reg[i - 1]]
    if chg:
        p.scatter(x[chg], mom[chg], marker="square", size=2.5, color="white")
    mag = G[t + "_VOL_CHANGE"]
    if mag:
        p.scatter(x[mag], vol[mag], marker="square", size=3.5, color="#ff33ff",
                  y_range_name="vol")
    ax = LinearAxis(y_range_name="vol", axis_label="Volatility Score",
                    ticker=FixedTicker(ticks=[0, 20, 40, 60, 80, 100]))
    style_axis(ax, color="#ff9a1f")
    ax.axis_label_text_color = "#ff9a1f"
    p.add_layout(ax, "right")
    return p


def legend_fig(h, top, entries):
    p = figure(width=LEG_W, height=h, x_range=Range1d(0, 1), y_range=Range1d(0, 1),
               output_backend="svg", toolbar_location=None, x_axis_location=None,
               y_axis_location=None, min_border_left=34, min_border_right=0,
               min_border_top=top, min_border_bottom=0, background_fill_color=BG,
               border_fill_color=BG, outline_line_color=None)
    p.grid.visible = False
    items = []
    for label, kind, style in entries:
        if kind == "line":
            r = p.line(x=[], y=[], **style)
        elif kind == "box":
            r = p.quad(left=[], right=[], bottom=[], top=[], line_color=None, **style)
        else:
            r = p.scatter(x=[], y=[], marker="square", size=3, **style)
        items.append(LegendItem(label=label, renderers=[r]))
    lg = Legend(items=items, location="top_left", label_text_font=FONT,
                label_text_font_size="2.8px", label_text_color="#dddddd",
                glyph_width=6, glyph_height=3, label_height=3, label_width=10,
                spacing=1, padding=3, margin=0, label_standoff=2,
                border_line_color="#aaaaaa", border_line_width=0.6,
                background_fill_color=BG, background_fill_alpha=1.0)
    p.add_layout(lg)
    return p


LEG_CANDLE = [("Bullish Candle", "line", dict(line_color="#5fd35f", line_width=1.5)),
              ("Bearish Candle", "line", dict(line_color="#e04040", line_width=1.5)),
              ("Bullish Cloud", "box", dict(fill_color=CLOUD_BULL)),
              ("Bearish Cloud", "box", dict(fill_color=CLOUD_BEAR)),
              ("Support", "line", dict(line_color="#3fbf4f", line_dash="2 1", line_width=0.8)),
              ("Resistance", "line", dict(line_color="#e46aa8", line_dash="2 1", line_width=0.8)),
              ("Tenkan-sen", "line", dict(line_color="#22b8cc", line_width=0.9)),
              ("Kijun-sen", "line", dict(line_color="#e6dccb", line_dash="2 1", line_width=0.8))]
LEG_RSI = [("RSI", "line", dict(line_color="#cc44cc", line_width=0.9)),
           ("Overbought (70)", "line", dict(line_color="#d62728", line_dash="2 1", line_width=0.8)),
           ("Oversold (30)", "line", dict(line_color="#2ca02c", line_dash="2 1", line_width=0.8))]
LEG_MACD = [("Volume", "box", dict(fill_color="#3cc4cc")),
            ("MACD", "line", dict(line_color="#1aa7c4", line_width=0.9)),
            ("Signal", "line", dict(line_color="#d9d936", line_width=0.9)),
            ("MACD Histogram", "box", dict(fill_color="#ff00ff")),
            ("Zero Line", "line", dict(line_color="white", line_dash="2 1", line_width=0.8))]
LEG_VPT = [("VPT", "line", dict(line_color="#ffa500", line_width=0.9)),
           ("VPT SMA (20)", "line", dict(line_color="white", line_dash="2 1", line_width=0.8)),
           ("Zero Line", "line", dict(line_color="#888888", line_dash="2 1", line_width=0.8))]
LEG_CMF = [("CMF", "line", dict(line_color="#20d0d0", line_width=0.9)),
           ("Bullish (0.05)", "line", dict(line_color="#d62728", line_dash="2 1", line_width=0.8)),
           ("Bearish (-0.05)", "line", dict(line_color="#2ca02c", line_dash="2 1", line_width=0.8)),
           ("Zero", "line", dict(line_color="#777777", line_width=0.6))]
LEG_MOM = [("Momentum Strength", "line", dict(line_color="white", line_width=0.9)),
           ("Volatility Score", "line", dict(line_color="#ff9a1f", line_width=0.9)),
           ("Strong Bullish (>50)", "box", dict(fill_color=REG_COL["G"])),
           ("Strong Bearish (<-50)", "box", dict(fill_color=REG_COL["R"])),
           ("Neutral Zone", "box", dict(fill_color=REG_COL["N"])),
           ("High Volatility (>70)", "line", dict(line_color="#b59b35", line_dash="2 1", line_width=0.8)),
           ("Medium Volatility (30-70)", "line", dict(line_color="#777777", line_dash="1 1", line_width=0.8)),
           ("Low Volatility (<30)", "line", dict(line_color="#aa4444", line_dash="2 1", line_width=0.8)),
           ("Momentum Change", "sq", dict(color="white")),
           ("Volatility Change", "sq", dict(color="#ff33ff"))]

rows = [row(*[f(t) for t in TICKERS]) for f in
        (candle_panel, rsi_panel, macd_panel, vpt_panel, cmf_panel, mom_panel)]

FOOT_H = 25
footer = figure(width=4 * COL_W, height=FOOT_H, x_range=Range1d(0, 4 * COL_W),
                y_range=Range1d(0, FOOT_H), output_backend="svg", toolbar_location=None,
                x_axis_location=None, y_axis_location=None, min_border=0,
                background_fill_color=BG, border_fill_color=BG, outline_line_color=None)
footer.grid.visible = False
footer.add_layout(Label(x=572, y=6, text=FOOTER, text_align="center", text_baseline="middle",
                        text_font=FONT, text_font_size="3.5px", text_font_style="bold",
                        text_color="#eeeeee"))

legends = column(legend_fig(130, 31, LEG_CANDLE), legend_fig(102, 11, LEG_RSI),
                 legend_fig(104, 6, LEG_MACD), legend_fig(100, 6, LEG_VPT),
                 legend_fig(88, 6, LEG_CMF), legend_fig(86, 6, LEG_MOM))

layout = row(column(*rows, footer), legends)

html = file_html(layout, INLINE, title="Comparative 4h Candlesticks")
html = html.replace("<head>", "<head><style>html, body { background: #000000; }</style>", 1)
with open("out.html", "w") as fh:
    fh.write(html)
